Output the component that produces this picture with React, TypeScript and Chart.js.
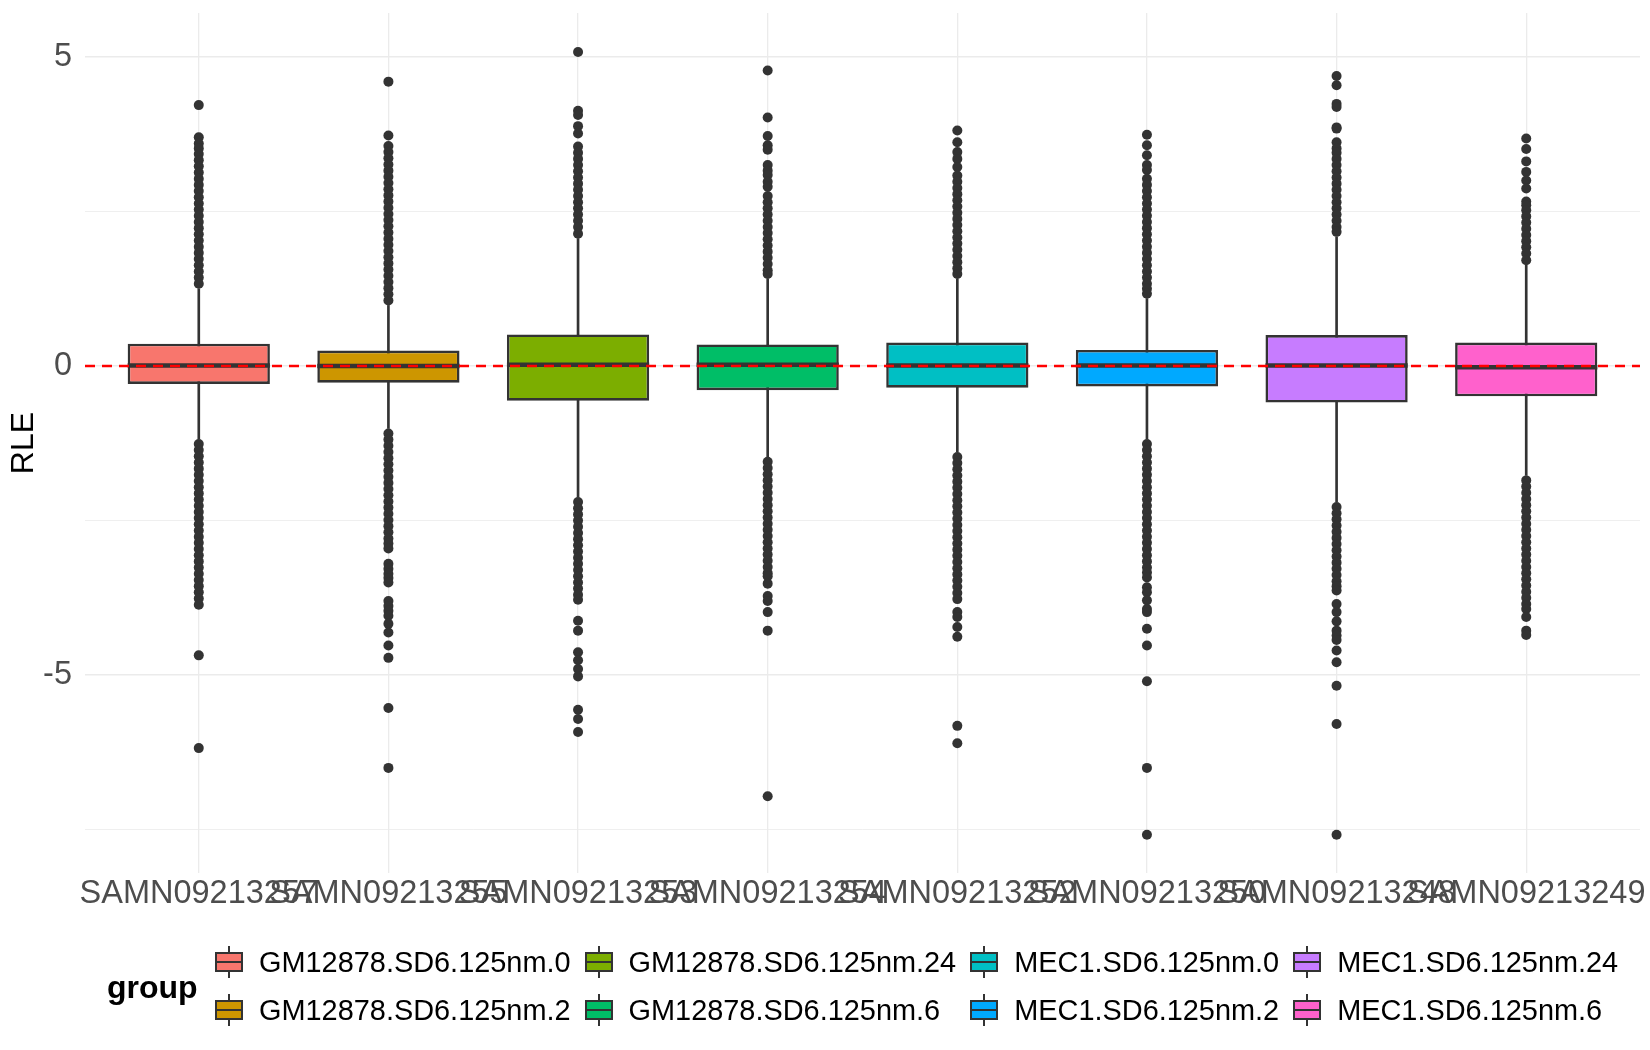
import React, { useEffect, useRef } from "react";
import { Chart, registerables } from "chart.js";

Chart.register(...registerables);

// ---------- data ----------
const samples = [
  "SAMN09213257",
  "SAMN09213255",
  "SAMN09213253",
  "SAMN09213254",
  "SAMN09213252",
  "SAMN09213250",
  "SAMN09213248",
  "SAMN09213249",
];

const groupOfSample = [
  "GM12878.SD6.125nm.0",
  "GM12878.SD6.125nm.2",
  "GM12878.SD6.125nm.24",
  "GM12878.SD6.125nm.6",
  "MEC1.SD6.125nm.0",
  "MEC1.SD6.125nm.2",
  "MEC1.SD6.125nm.24",
  "MEC1.SD6.125nm.6",
];

const groupColors = [
  "#F8766D",
  "#CD9600",
  "#7CAE00",
  "#00BE67",
  "#00BFC4",
  "#00A9FF",
  "#C77CFF",
  "#FF61CC",
];

const q1 = [-0.29, -0.27, -0.56, -0.39, -0.35, -0.33, -0.59, -0.49];
const medianVals = [0.01, 0.0, 0.02, 0.02, 0.01, 0.01, 0.01, -0.02];
const q3 = [0.36, 0.25, 0.51, 0.35, 0.38, 0.26, 0.5, 0.38];
const whiskerLow = [-1.18, -1.01, -2.12, -1.47, -1.39, -1.18, -2.2, -1.77];
const whiskerHigh = [1.25, 0.98, 2.06, 1.41, 1.41, 1.09, 2.09, 1.63];

const out257 = [
  4.22, 3.7, 3.6, 3.52, 3.43, 3.33, 3.23, 3.13, 3.03, 2.93, 2.83, 2.73, 2.63, 2.53, 2.43, 2.33, 2.23,
  2.13, 2.03, 1.93, 1.83, 1.73, 1.63, 1.53, 1.43, 1.33,
  -1.26, -1.36, -1.46, -1.56, -1.66, -1.76, -1.86, -1.96, -2.06, -2.16, -2.26, -2.36, -2.46, -2.56,
  -2.66, -2.76, -2.86, -2.96, -3.06, -3.16, -3.26, -3.36, -3.46, -3.56, -3.66, -3.76, -3.86, -4.68,
  -6.18,
];
const out255 = [
  4.6, 3.73, 3.56, 3.46, 3.36, 3.26, 3.16, 3.06, 2.96, 2.86, 2.76, 2.66, 2.56, 2.46, 2.36, 2.26, 2.16,
  2.06, 1.96, 1.86, 1.76, 1.66, 1.56, 1.46, 1.36, 1.26, 1.16, 1.06,
  -1.09, -1.19, -1.29, -1.39, -1.49, -1.59, -1.69, -1.79, -1.89, -1.99, -2.09, -2.19, -2.29, -2.39,
  -2.49, -2.59, -2.69, -2.79, -2.87, -2.95, -3.2, -3.28, -3.36, -3.43, -3.5, -3.8, -3.88, -3.96,
  -4.04, -4.17, -4.31, -4.52, -4.72, -5.53, -6.5,
];
const out253 = [
  5.08, 4.13, 4.06, 3.88, 3.76, 3.55, 3.45, 3.35, 3.25, 3.15, 3.05, 2.95, 2.85, 2.75, 2.65, 2.55, 2.45,
  2.35, 2.25, 2.14,
  -2.2, -2.3, -2.4, -2.5, -2.6, -2.7, -2.8, -2.9, -3.0, -3.1, -3.2, -3.3, -3.4, -3.5, -3.6, -3.7,
  -3.78, -4.12, -4.28, -4.63, -4.76, -4.9, -5.02, -5.56, -5.71, -5.92,
];
const out254 = [
  4.78, 4.02, 3.72, 3.57, 3.5, 3.25, 3.16, 3.09, 2.98, 2.9, 2.75, 2.65, 2.55, 2.45, 2.35, 2.25, 2.15,
  2.05, 1.95, 1.85, 1.75, 1.65, 1.55, 1.49,
  -1.55, -1.65, -1.75, -1.85, -1.95, -2.05, -2.15, -2.25, -2.35, -2.45, -2.55, -2.65, -2.75, -2.85,
  -2.95, -3.05, -3.15, -3.25, -3.35, -3.4, -3.52, -3.72, -3.8, -3.98, -4.28, -6.96,
];
const out252 = [
  3.81, 3.62, 3.46, 3.35, 3.22, 3.08, 2.98, 2.88, 2.78, 2.68, 2.58, 2.48, 2.38, 2.28, 2.18, 2.08, 1.98,
  1.88, 1.78, 1.68, 1.58, 1.49,
  -1.47, -1.57, -1.67, -1.77, -1.87, -1.97, -2.07, -2.17, -2.27, -2.37, -2.47, -2.57, -2.67, -2.77,
  -2.87, -2.97, -3.07, -3.17, -3.27, -3.37, -3.47, -3.57, -3.67, -3.77, -3.98, -4.06, -4.22, -4.38,
  -5.82, -6.1,
];
const out250 = [
  3.74, 3.57, 3.41, 3.25, 3.17, 3.03, 2.93, 2.83, 2.73, 2.63, 2.53, 2.43, 2.33, 2.23, 2.13, 2.03, 1.93,
  1.83, 1.73, 1.63, 1.53, 1.43, 1.33, 1.25, 1.17,
  -1.26, -1.36, -1.46, -1.56, -1.66, -1.76, -1.86, -1.96, -2.06, -2.16, -2.26, -2.36, -2.46, -2.56,
  -2.66, -2.76, -2.86, -2.96, -3.06, -3.16, -3.26, -3.34, -3.42, -3.58, -3.66, -3.79, -3.93, -3.98,
  -4.25, -4.52, -5.1, -6.5, -7.58,
];
const out248 = [
  4.69, 4.54, 4.24, 4.19, 3.86, 3.84, 3.62, 3.52, 3.45, 3.35, 3.25, 3.15, 3.05, 2.95, 2.85, 2.75, 2.65,
  2.55, 2.45, 2.35, 2.25, 2.17,
  -2.28, -2.38, -2.48, -2.58, -2.68, -2.78, -2.88, -2.98, -3.08, -3.18, -3.28, -3.38, -3.48, -3.56,
  -3.63, -3.85, -3.98, -4.13, -4.28, -4.36, -4.43, -4.6, -4.79, -5.17, -5.79, -7.58,
];
const out249 = [
  3.68, 3.51, 3.31, 3.14, 3.0, 2.87, 2.66, 2.6, 2.52, 2.42, 2.32, 2.22, 2.12, 2.02, 1.92, 1.82, 1.71,
  -1.85, -1.95, -2.05, -2.15, -2.25, -2.35, -2.45, -2.55, -2.65, -2.75, -2.85, -2.95, -3.05, -3.15,
  -3.25, -3.35, -3.45, -3.55, -3.65, -3.75, -3.85, -3.93, -4.06, -4.28, -4.35,
];
const outliers = [out257, out255, out253, out254, out252, out250, out248, out249];

const yTicks = [-7.5, -5, -2.5, 0, 2.5, 5];
const yLabelled = [-5, 0, 5];
const referenceLine = 0;

// legend order (column-major, two rows)
const legendGroups = [
  "GM12878.SD6.125nm.0",
  "GM12878.SD6.125nm.2",
  "GM12878.SD6.125nm.24",
  "GM12878.SD6.125nm.6",
  "MEC1.SD6.125nm.0",
  "MEC1.SD6.125nm.2",
  "MEC1.SD6.125nm.24",
  "MEC1.SD6.125nm.6",
];

const FONT = "'Liberation Sans', Arial, Helvetica, sans-serif";
const DARK = "#333333";

function LegendKey({ color }: { color: string }) {
  return (
    <div style={{ position: "relative", width: 28, height: 32, flex: "0 0 28px" }}>
      <div style={{ position: "absolute", left: 13, top: 0, width: 2, height: 32, background: DARK }} />
      <div
        style={{
          position: "absolute",
          left: 0,
          top: 6,
          width: 28,
          height: 20,
          boxSizing: "border-box",
          background: color,
          border: `2px solid ${DARK}`,
        }}
      />
      <div style={{ position: "absolute", left: 0, top: 15, width: 28, height: 2, background: DARK }} />
    </div>
  );
}

export default function App() {
  const canvasRef = useRef<HTMLCanvasElement | null>(null);

  useEffect(() => {
    if (!canvasRef.current) return;
    const xMin = -0.6;
    const xMax = samples.length - 1 + 0.6;

    const outlierPoints: { x: number; y: number }[] = [];
    outliers.forEach((arr, i) => arr.forEach((v) => outlierPoints.push({ x: i, y: v })));

    const chart = new Chart(canvasRef.current, {
      type: "bar",
      data: {
        datasets: [
          {
            type: "line",
            label: "ref",
            data: [
              { x: xMin, y: referenceLine },
              { x: xMax, y: referenceLine },
            ],
            borderColor: "#FF0000",
            borderWidth: 2.4,
            borderDash: [10, 7],
            pointRadius: 0,
            order: 0,
          } as any,
          {
            type: "scatter",
            label: "outliers",
            data: outlierPoints,
            backgroundColor: DARK,
            borderWidth: 0,
            pointRadius: 5,
            order: 1,
          } as any,
          {
            type: "bar",
            label: "median",
            data: samples.map((_, i) => ({ x: i, y: [medianVals[i] - 0.036, medianVals[i] + 0.036] })),
            backgroundColor: DARK,
            borderWidth: 0,
            barPercentage: 0.75,
            categoryPercentage: 1,
            grouped: false,
            order: 2,
          } as any,
          {
            type: "bar",
            label: "box",
            data: samples.map((_, i) => ({ x: i, y: [q1[i], q3[i]] })),
            backgroundColor: groupColors,
            borderColor: DARK,
            borderWidth: 2.6,
            borderSkipped: false,
            barPercentage: 0.75,
            categoryPercentage: 1,
            grouped: false,
            order: 3,
          } as any,
          {
            type: "bar",
            label: "whisker",
            data: samples.map((_, i) => ({ x: i, y: [whiskerLow[i], whiskerHigh[i]] })),
            backgroundColor: DARK,
            borderWidth: 0,
            barThickness: 2,
            grouped: false,
            order: 4,
          } as any,
        ],
      },
      options: {
        animation: false,
        responsive: false,
        maintainAspectRatio: false,
        layout: { padding: { left: 0, right: 10, top: 13, bottom: 0 } },
        plugins: {
          legend: { display: false },
          tooltip: { enabled: false },
        },
        scales: {
          x: {
            type: "linear",
            min: xMin,
            max: xMax,
            offset: false,
            afterBuildTicks: (axis: any) => {
              axis.ticks = samples.map((_, i) => ({ value: i }));
            },
            afterFit: (s: any) => {
              s.height = 177;
              s.paddingLeft = 0;
              s.paddingRight = 0;
            },
            grid: {
              color: "#EBEBEB",
              lineWidth: 1.3,
              drawTicks: false,
              offset: false,
            },
            border: { display: false },
            ticks: {
              autoSkip: false,
              maxRotation: 0,
              minRotation: 0,
              padding: 2,
              color: "#4D4D4D",
              font: { family: FONT, size: 32.5 },
              callback: (v: any) => samples[Math.round(Number(v))] ?? "",
            },
          },
          y: {
            type: "linear",
            min: -8.2,
            max: 5.71,
            afterBuildTicks: (axis: any) => {
              axis.ticks = yTicks.map((v) => ({ value: v }));
            },
            afterFit: (s: any) => {
              s.width = 85;
              s.paddingTop = 0;
              s.paddingBottom = 0;
            },
            grid: {
              color: "#EBEBEB",
              lineWidth: (ctx: any) => (yLabelled.includes(ctx.tick?.value) ? 1.4 : 0.8),
              drawTicks: false,
            },
            border: { display: false },
            ticks: {
              padding: 13,
              color: "#4D4D4D",
              font: { family: FONT, size: 32.5 },
              callback: (v: any) => (yLabelled.includes(Number(v)) ? String(v) : ""),
            },
            title: {
              display: true,
              text: "RLE",
              color: "#000000",
              font: { family: FONT, size: 32 },
              padding: { top: 5, bottom: 0 },
            },
          },
        },
      } as any,
    });

    return () => chart.destroy();
  }, []);

  const columns: string[][] = [];
  for (let c = 0; c < legendGroups.length / 2; c++) {
    columns.push([legendGroups[c * 2], legendGroups[c * 2 + 1]]);
  }

  return (
    <div
      style={{
        position: "absolute",
        left: 0,
        top: 0,
        width: 1650,
        height: 1050,
        background: "#ffffff",
        overflow: "hidden",
        fontFamily: FONT,
      }}
    >
      <canvas
        ref={canvasRef}
        width={1650}
        height={1050}
        style={{ position: "absolute", left: 0, top: 0, width: 1650, height: 1050 }}
      />
      <div
        style={{
          position: "absolute",
          left: 107,
          top: 966,
          height: 42,
          lineHeight: "42px",
          fontSize: 32,
          fontWeight: "bold",
          color: "#000",
        }}
      >
        group
      </div>
      <div style={{ position: "absolute", left: 215, top: 938, display: "flex", gap: 14 }}>
        {columns.map((col, ci) => (
          <div key={ci} style={{ display: "flex", flexDirection: "column" }}>
            {col.map((g) => (
              <div key={g} style={{ display: "flex", alignItems: "center", height: 48 }}>
                <LegendKey color={groupColors[legendGroups.indexOf(g)]} />
                <span
                  style={{
                    marginLeft: 16,
                    fontSize: 28.9,
                    color: "#000",
                    whiteSpace: "nowrap",
                    lineHeight: "48px",
                  }}
                >
                  {g}
                </span>
              </div>
            ))}
          </div>
        ))}
      </div>
    </div>
  );
}
